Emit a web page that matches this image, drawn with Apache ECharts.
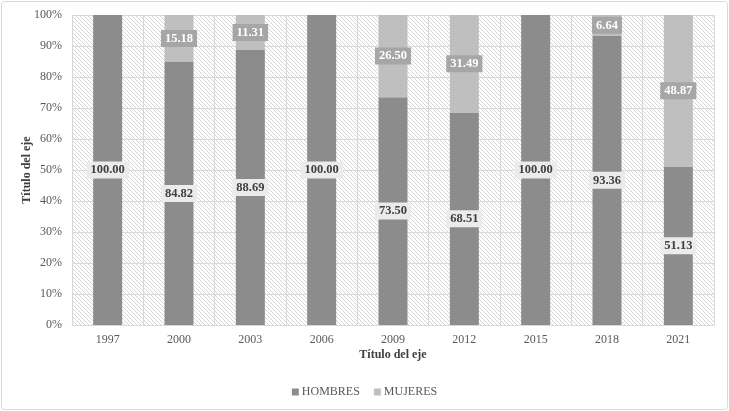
<!DOCTYPE html>
<html><head><meta charset="utf-8">
<script src="https://cdn.jsdelivr.net/npm/echarts@6/dist/echarts.min.js"></script>
<style>html,body{margin:0;padding:0;background:#fff}#c{width:729px;height:411px}</style>
</head><body><div id="c"></div>
<script>
const categories = ['1997','2000','2003','2006','2009','2012','2015','2018','2021'];
const hombres = [100.00, 84.82, 88.69, 100.00, 73.50, 68.51, 100.00, 93.36, 51.13];
const mujeres = [null, 15.18, 11.31, null, 26.50, 31.49, null, 6.64, 48.87];
const yTicks = [0,10,20,30,40,50,60,70,80,90,100];

// hatch pattern
const tile = document.createElement('canvas');
tile.width = 4; tile.height = 4;
const tctx = tile.getContext('2d');
tctx.fillStyle = '#ffffff'; tctx.fillRect(0,0,4,4);
tctx.fillStyle = '#d6d6d6';
for (let i = 0; i < 4; i++) tctx.fillRect(i, i, 1, 1);

const font = '"Liberation Serif", "Times New Roman", serif';
const chart = echarts.init(document.getElementById('c'), null, {renderer:'canvas'});
chart.setOption({
  backgroundColor: '#ffffff',
  animation: false,
  textStyle: {fontFamily: font},
  graphic: [{type:'rect', shape:{x:1.5,y:1.5,width:726,height:408,r:3}, style:{fill:'none', stroke:'#d9d9d9', lineWidth:1}, z:-1}],
  grid: {left:72, right:15, top:15, bottom:86, show:true, backgroundColor:{image: tile, repeat:'repeat'}, borderWidth:0},
  legend: {
    bottom: 8, left: 'center', itemWidth: 7, itemHeight: 7, itemGap: 14,
    icon: 'rect',
    textStyle: {fontFamily: font, fontSize: 12, color: '#595959', padding:[0,0,0,-2]},
    data: ['HOMBRES','MUJERES']
  },
  xAxis: {
    type: 'category', data: categories,
    name: 'Título del eje', nameLocation: 'middle', nameGap: 24, nameMoveOverlap: false,
    nameTextStyle: {fontFamily: font, fontSize: 12, fontWeight: 'bold', color: '#404040'},
    axisLine: {lineStyle: {color: '#d9d9d9'}},
    axisTick: {show: false},
    axisLabel: {fontFamily: font, fontSize: 12, color: '#595959', margin: 9},
    splitLine: {show: true, lineStyle: {color: '#d9d9d9'}}
  },
  yAxis: {
    type: 'value', min: 0, max: 100, interval: 10,
    name: 'Título del eje', nameLocation: 'middle', nameGap: 39, nameMoveOverlap: false,
    nameTextStyle: {fontFamily: font, fontSize: 12, fontWeight: 'bold', color: '#404040'},
    axisLine: {show: false}, axisTick: {show: false},
    axisLabel: {fontFamily: font, fontSize: 12, color: '#595959', margin: 10,
      formatter: v => yTicks.includes(v) ? v + '%' : ''},
    splitLine: {lineStyle: {color: '#d9d9d9'}}
  },
  series: [
    {name:'HOMBRES', type:'bar', stack:'t', data: hombres, barWidth: 29,
     itemStyle:{color:'#8c8c8c'},
     label:{show:true, position:'inside', formatter: p => p.value.toFixed(2),
       fontFamily: font, fontSize: 12.5, fontWeight:'bold', color:'#404040',
       backgroundColor:'#ebebeb', padding:[2,4], lineHeight:13}},
    {name:'MUJERES', type:'bar', stack:'t', data: mujeres, barWidth: 29,
     itemStyle:{color:'#bfbfbf'},
     label:{show:true, position:'inside', formatter: p => p.value == null ? '' : p.value.toFixed(2),
       fontFamily: font, fontSize: 12.5, fontWeight:'bold', color:'#ffffff',
       backgroundColor:'#a6a6a6', padding:[2,4], lineHeight:13}}
  ]
});
</script></body></html>
